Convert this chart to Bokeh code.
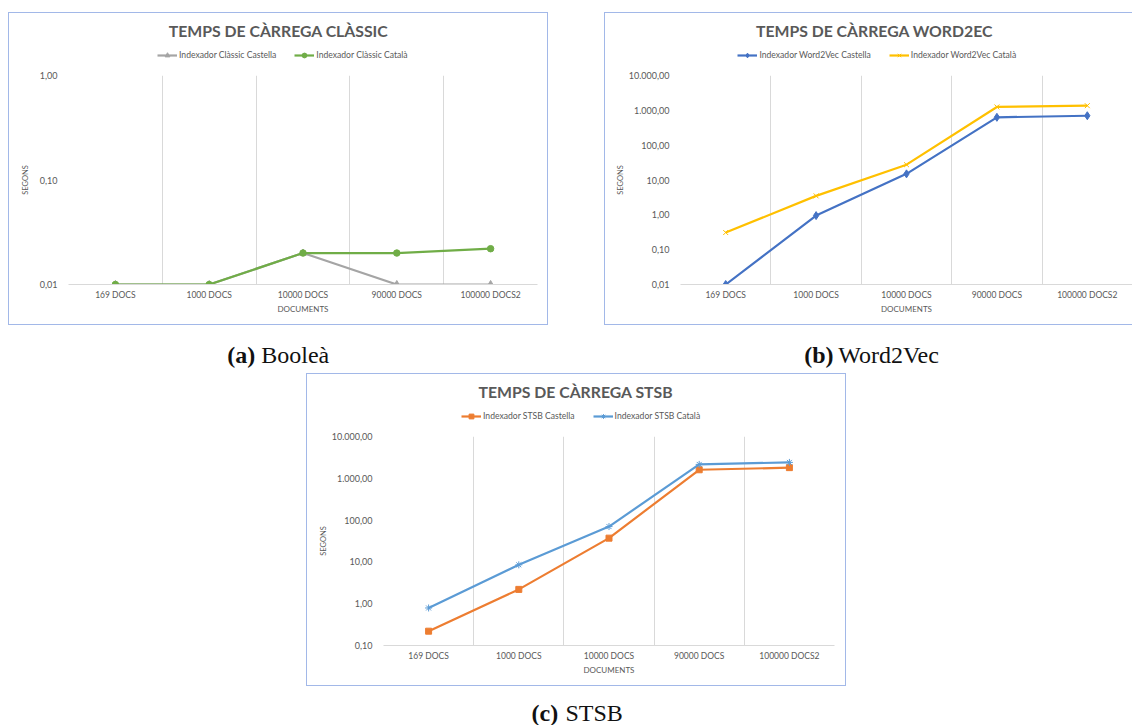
from bokeh.plotting import figure
from bokeh.layouts import column, row
from bokeh.models import (Spacer, Range1d, FactorRange, FixedTicker, Legend,
                          LegendItem, Label)
from bokeh.embed import file_html
from bokeh.resources import INLINE

# ---- data -------------------------------------------------------------
categories = ["169 DOCS", "1000 DOCS", "10000 DOCS", "90000 DOCS", "100000 DOCS2"]

classic_castella = [0.01, 0.01, 0.02, 0.01, 0.01]
classic_catala = [0.01, 0.01, 0.02, 0.02, 0.022]

w2v_castella = [0.01, 0.95, 15.0, 630.0, 700.0]
w2v_catala = [0.31, 3.5, 27.5, 1250.0, 1360.0]

stsb_castella = [0.22, 2.2, 37.0, 1600.0, 1800.0]
stsb_catala = [0.79, 8.5, 70.0, 2150.0, 2400.0]

classic_ticks = [0.01, 0.1, 1.0]
classic_tick_labels = ["0,01", "0,10", "1,00"]
w2v_ticks = [0.01, 0.1, 1.0, 10.0, 100.0, 1000.0, 10000.0]
w2v_tick_labels = ["0,01", "0,10", "1,00", "10,00", "100,00", "1.000,00", "10.000,00"]
stsb_ticks = [0.1, 1.0, 10.0, 100.0, 1000.0, 10000.0]
stsb_tick_labels = ["0,10", "1,00", "10,00", "100,00", "1.000,00", "10.000,00"]

# ---- styling ------------------------------------------------------------
TEXT = "#595959"
GRID = "#D9D9D9"
FRAME = "#A2B8E8"
FONT = "Lato"
BOX_H = 313      # outer height of each bordered chart
HEAD_H = 52      # title + legend strip inside the border
NAN = float("nan")


def bare_figure(width, height, left=0, right=0):
    inner = width - left - right
    f = figure(width=width, height=height, x_range=Range1d(0, inner),
               y_range=Range1d(0, height), output_backend="svg",
               toolbar_location=None, x_axis_location=None,
               y_axis_location=None, min_border=0,
               min_border_left=left, min_border_right=right)
    f.outline_line_color = None
    f.grid.visible = False
    return f


def make_chart(title, ticks, tick_labels, series, width, left, right,
               title_x, legend_x, y_label_standoff, open_right=False):
    inner_w = width - (1 if open_right else 2)

    # header: chart title and legend (its frame lines up with the plot frame)
    head = bare_figure(inner_w, HEAD_H, left, right)
    head.add_layout(Label(x=title_x, y=35, text=title, text_align="center",
                          text_baseline="middle", text_font=FONT,
                          text_font_style="bold", text_font_size="15.8px",
                          text_color=TEXT))

    # plot area
    p = figure(width=inner_w, height=BOX_H - 2 - HEAD_H, title=None,
               x_range=FactorRange(*categories, range_padding=0),
               y_range=Range1d(ticks[0], ticks[-1]), y_axis_type="log",
               output_backend="svg", toolbar_location=None,
               min_border_left=left, min_border_right=right,
               min_border_top=10, min_border_bottom=40)
    p.outline_line_color = None
    p.background_fill_color = "white"
    p.border_fill_color = "white"

    # vertical separators between categories
    p.xgrid.ticker = FixedTicker(ticks=list(range(len(categories) + 1)))
    p.xgrid.grid_line_color = GRID
    p.ygrid.grid_line_color = None

    xa = p.xaxis[0]
    xa.axis_line_color = GRID
    xa.major_tick_line_color = None
    xa.minor_tick_line_color = None
    xa.major_tick_out = 0
    xa.major_label_standoff = 5
    xa.major_label_text_font = FONT
    xa.major_label_text_font_size = "8.5px"
    xa.major_label_text_color = TEXT
    xa.axis_label = "DOCUMENTS"
    xa.axis_label_standoff = 1
    xa.axis_label_text_font = FONT
    xa.axis_label_text_font_size = "8px"
    xa.axis_label_text_font_style = "normal"
    xa.axis_label_text_color = TEXT

    ya = p.yaxis[0]
    ya.ticker = FixedTicker(ticks=ticks, minor_ticks=[])
    ya.major_label_overrides = dict(zip(ticks, tick_labels))
    ya.axis_line_color = None
    ya.major_tick_line_color = None
    ya.minor_tick_line_color = None
    ya.major_tick_out = 0
    ya.major_label_standoff = 11
    ya.major_label_text_font = FONT
    ya.major_label_text_font_size = "9px"
    ya.major_label_text_color = TEXT
    ya.axis_label = "SEGONS"
    ya.axis_label_standoff = y_label_standoff
    ya.axis_label_text_font = FONT
    ya.axis_label_text_font_size = "7.5px"
    ya.axis_label_text_font_style = "normal"
    ya.axis_label_text_color = TEXT

    items = []
    for name, values, color, marker, size in series:
        p.line(categories, values, line_color=color, line_width=2.2)
        p.scatter(categories, values, marker=marker, size=size,
                  fill_color=color, line_color=color, line_width=1)
        # legend swatch in the header, same style as the series (no visible data)
        ln = head.line([NAN], [NAN], line_color=color, line_width=2.2)
        mk = head.scatter([NAN], [NAN], marker=marker, fill_color=color,
                          line_color=color, line_width=1)
        items.append(LegendItem(label=name, renderers=[ln, mk]))

    head.add_layout(Legend(items=items, orientation="horizontal",
                           location=(legend_x, 3.7), glyph_width=20,
                           glyph_height=12, label_height=12, label_standoff=2,
                           spacing=18, padding=0, margin=0,
                           border_line_color=None, background_fill_alpha=0,
                           label_text_font=FONT, label_text_font_size="8.6px",
                           label_text_color=TEXT))

    if open_right:
        border = {"border-left": f"1px solid {FRAME}",
                  "border-top": f"1px solid {FRAME}",
                  "border-bottom": f"1px solid {FRAME}"}
    else:
        border = {"border": f"1px solid {FRAME}"}
    return column(head, p, styles=border)


fa = make_chart("TEMPS DE CÀRREGA CLÀSSIC", classic_ticks, classic_tick_labels,
                [("Indexador Clàssic Castella", classic_castella, "#A5A5A5", "triangle", 7),
                 ("Indexador Clàssic Català", classic_catala, "#70AD47", "circle", 6.5)],
                width=540, left=59, right=10, title_x=210, legend_x=89,
                y_label_standoff=7)

fb = make_chart("TEMPS DE CÀRREGA WORD2EC", w2v_ticks, w2v_tick_labels,
                [("Indexador Word2Vec Castella", w2v_castella, "#4472C4", "diamond", 8),
                 ("Indexador Word2Vec Català", w2v_catala, "#FFC000", "x", 7)],
                width=528, left=75, right=0, title_x=194, legend_x=57.4,
                y_label_standoff=1, open_right=True)

fc = make_chart("TEMPS DE CÀRREGA STSB", stsb_ticks, stsb_tick_labels,
                [("Indexador STSB Castella", stsb_castella, "#ED7D31", "square", 6),
                 ("Indexador STSB Català", stsb_catala, "#5B9BD5", "asterisk", 7)],
                width=540, left=76, right=11, title_x=192.3, legend_x=78,
                y_label_standoff=1)


def caption_strip(height, parts):
    c = bare_figure(1132, height)
    for x, y, tag, name in parts:
        c.add_layout(Label(x=x, y=y, text=tag, text_font="Liberation Serif",
                           text_font_style="bold", text_font_size="24px",
                           text_baseline="middle", text_color="#111111"))
        c.add_layout(Label(x=x + 34, y=y, text=name, text_font="Liberation Serif",
                           text_font_size="24px", text_baseline="middle",
                           text_color="#111111"))
    return c


cap_ab = caption_strip(48, [(226.7, 19, "(a)", "Booleà"),
                            (803.7, 19, "(b)", "Word2Vec")])
cap_c = caption_strip(39, [(531.0, 13, "(c)", "STSB")])

layout = column(
    Spacer(width=1132, height=12),
    row(Spacer(width=8, height=BOX_H), fa, Spacer(width=56, height=BOX_H), fb),
    cap_ab,
    row(Spacer(width=306, height=BOX_H), fc, Spacer(width=286, height=BOX_H)),
    cap_c,
)

open("out.html", "w").write(file_html(layout, INLINE))
